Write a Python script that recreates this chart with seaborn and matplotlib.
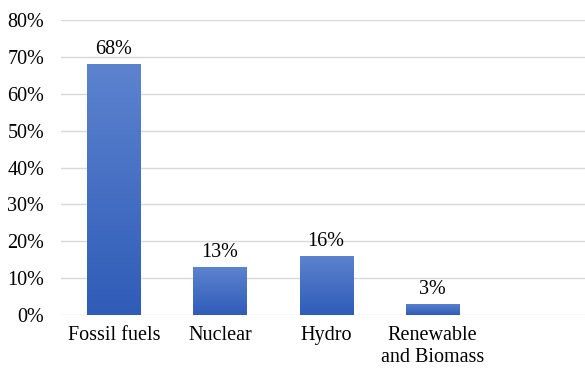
import numpy as np
import pandas as pd
import seaborn as sns
import matplotlib.pyplot as plt
from matplotlib.colors import LinearSegmentedColormap
from matplotlib.ticker import FuncFormatter

# datos del grafico
fuentes = ['Fossil fuels', 'Nuclear', 'Hydro', 'Renewable\nand Biomass']
porcentajes = [68, 13, 16, 3]
etiquetas = ['68%', '13%', '16%', '3%']

df = pd.DataFrame({'fuente': fuentes, 'valor': porcentajes})

sns.set_theme(style="white")
plt.rcParams['font.family'] = ['Liberation Serif', 'DejaVu Serif']

fig = plt.figure(figsize=(5.85, 3.69), dpi=100)
ax = fig.add_axes([0.104, 0.146, 0.896, 0.8])

sns.barplot(data=df, x='fuente', y='valor', ax=ax, width=0.5,
            color='#4472c4', saturation=1)

# degradado vertical en cada barra
cmap = LinearSegmentedColormap.from_list('azul', ['#2f5cb8', '#5d83cf'])
grad = np.linspace(0, 1, 256).reshape(-1, 1)
for p in ax.patches:
    x0, y0 = p.get_x(), p.get_y()
    w, h = p.get_width(), p.get_height()
    im = ax.imshow(grad, cmap=cmap, origin='lower', aspect='auto',
                   extent=[x0, x0 + w, y0, y0 + h], zorder=2)
    im.set_clip_path(p)
    p.set_facecolor('none')
    p.set_edgecolor('none')

ax.bar_label(ax.containers[0], labels=etiquetas, padding=4, fontsize=14.5,
             color='black')

ax.set_xlim(-0.5, 4.44)
ax.set_ylim(0, 80)
ax.set_yticks(range(0, 81, 10))
ax.yaxis.set_major_formatter(FuncFormatter(lambda v, _: f'{v:.0f}%'))
ax.grid(axis='y', color='#d9d9d9', linewidth=1)
ax.set_axisbelow(True)
for s in ax.spines.values():
    s.set_visible(False)
ax.tick_params(axis='both', length=0, labelsize=14.5, colors='black')
ax.tick_params(axis='y', pad=12)
ax.tick_params(axis='x', pad=8)
ax.set_xlabel('')
ax.set_ylabel('')

fig.savefig('out.png', dpi=100)
